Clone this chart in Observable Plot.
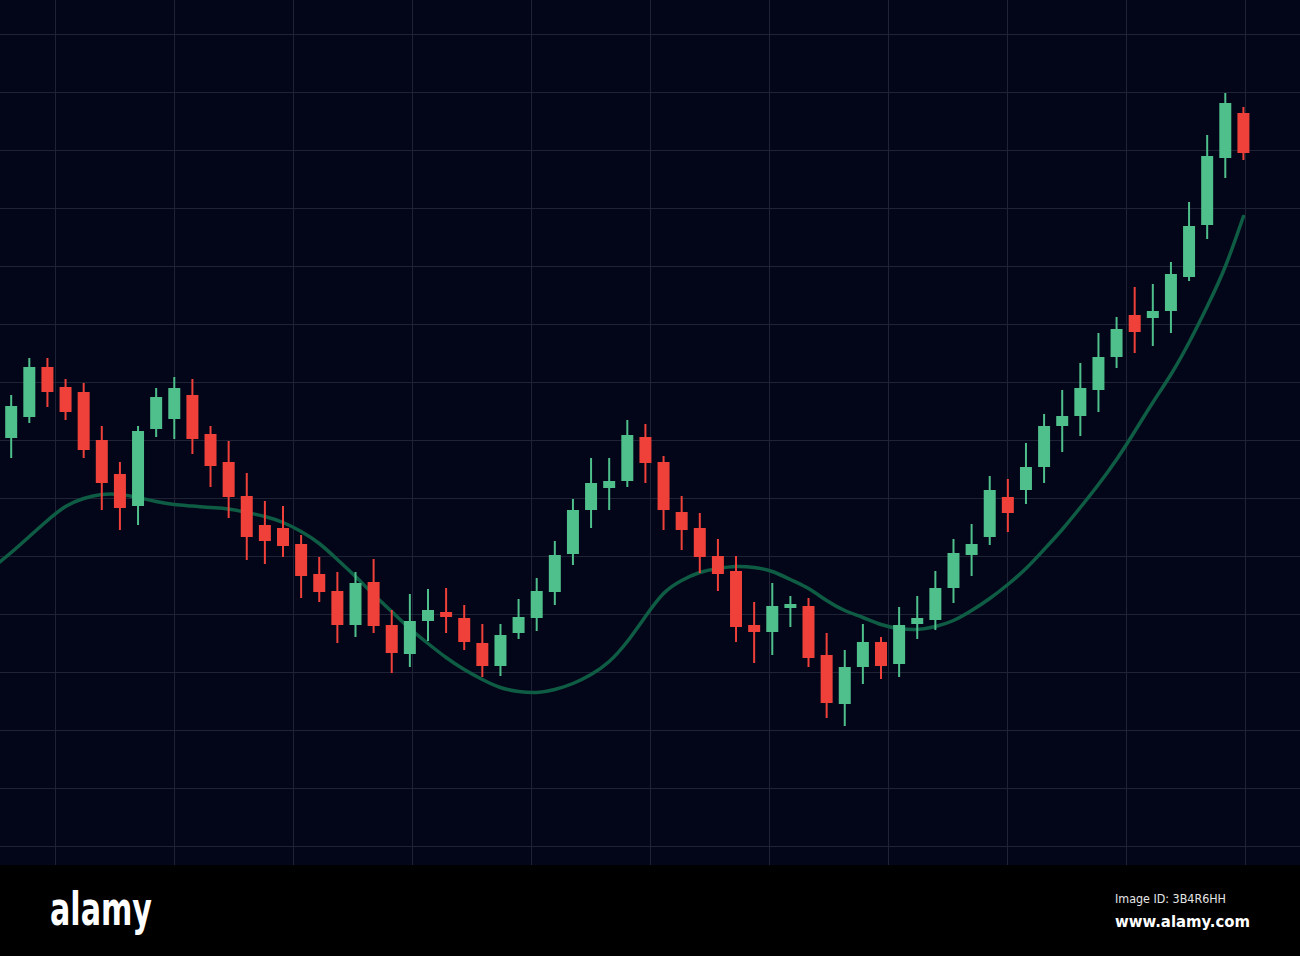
<!DOCTYPE html>
<html>
<head>
<meta charset="utf-8">
<script src="https://cdn.jsdelivr.net/npm/d3@7"></script>
<script src="https://cdn.jsdelivr.net/npm/@observablehq/plot@0.6"></script>
<style>
  html, body { margin: 0; padding: 0; background: #000; width: 1300px; height: 956px; overflow: hidden; }
  #chart svg { display: block; }
  #footer { display: block; }
</style>
</head>
<body>
<div id="chart"></div>
<svg id="footer" width="1300" height="91" xmlns="http://www.w3.org/2000/svg">
  <rect x="0" y="0" width="1300" height="91" fill="#000"></rect>
  <text x="50" y="60" fill="#fff" font-family="'Liberation Sans Narrow', 'DejaVu Sans Condensed', sans-serif" font-weight="bold" font-size="46" textLength="102" lengthAdjust="spacingAndGlyphs">alamy</text>
  <text x="1115" y="38" fill="#e6e6e6" font-family="'DejaVu Sans Condensed', 'Liberation Sans Narrow', sans-serif" font-size="13" textLength="111" lengthAdjust="spacingAndGlyphs">Image ID: 3B4R6HH</text>
  <text x="1115" y="62" fill="#fff" font-family="'DejaVu Sans Condensed', 'Liberation Sans Narrow', sans-serif" font-weight="bold" font-size="15" textLength="135" lengthAdjust="spacingAndGlyphs">www.alamy.com</text>
</svg>
<script>
// Candle data (one entry per session, sessions 1..69)
const opens  = [462,483,533,513,508,460,426,394,471,481,505,466,438,404,375,372,356,326,309,275,318,275,246,279,288,282,257,234,267,282,308,346,390,412,419,463,438,388,372,344,329,275,268,292,294,245,196,233,258,236,276,280,312,345,363,403,410,433,474,484,510,543,585,582,589,623,675,742,787];
const highs  = [505,542,542,521,517,474,438,474,512,523,521,474,459,427,399,394,365,343,328,328,341,290,306,311,312,295,276,276,301,322,359,401,442,442,480,476,444,404,387,361,344,298,317,304,302,267,250,276,263,293,304,329,361,376,424,421,457,486,510,537,567,583,613,616,638,698,765,807,793];
const lows   = [442,477,493,480,442,390,370,375,463,461,446,413,382,340,336,343,302,298,257,263,267,227,233,259,267,250,223,224,261,269,295,335,372,390,413,417,370,350,327,309,258,237,245,273,233,182,174,216,221,223,261,270,297,324,355,368,396,417,448,464,488,532,547,554,567,619,661,722,740];
const closes = [494,533,508,488,450,417,392,469,503,512,461,434,403,363,359,354,324,308,275,317,274,247,279,290,283,258,234,265,283,309,345,390,417,419,465,437,390,370,343,326,273,268,294,296,242,197,233,258,234,275,282,312,347,356,410,387,433,474,484,512,543,571,568,589,626,674,744,797,747];

// Moving average, from session 0 to session 69
const maValues = [333,348,364,380,394,402,406,406,403,399,396,394.5,393,391.5,388,384,378,369,357,341,324,306,289,272,257,243,231,221,213,209,208,211,217,226,239,259,284,307,320,328,332,334,333,329,321,312,300,290,283,276,272,271,274,280,290,302,316,332,351,371,393,416,441,469,498,526,558,594,634,684];

// Grid positions (price levels and time marks)
const priceTicks = [866,808,750,692,634,576,518,460,402,344,286,228,170,112,54];
const timeTicks = [3.445,10.012,16.579,23.146,29.713,36.28,42.847,49.414,55.981,62.548,69.115];

const UP = "#4fbf8b";
const DOWN = "#ef4139";

const candles = opens.map((o, i) => ({
  t: i + 1, open: o, high: highs[i], low: lows[i], close: closes[i],
  color: closes[i] >= o ? UP : DOWN
}));
const ma = maValues.map((v, i) => ({ t: i, v }));

const chart = Plot.plot({
  width: 1300,
  height: 865,
  margin: 0,
  style: { background: "#030619" },
  x: { domain: [0.41, 72.15], axis: null },
  y: { domain: [35, 900], axis: null },
  color: { type: "identity" },
  marks: [
    Plot.ruleX(timeTicks, { stroke: "#1e2336", strokeWidth: 1 }),
    Plot.ruleY(priceTicks, { stroke: "#1e2336", strokeWidth: 1 }),
    Plot.line(ma, { x: "t", y: "v", stroke: "#0f5c44", strokeWidth: 3.5, curve: "natural", clip: true }),
    Plot.ruleX(candles, { x: "t", y1: "low", y2: "high", stroke: "color", strokeWidth: 2 }),
    Plot.ruleX(candles, { x: "t", y1: "open", y2: "close", stroke: "color", strokeWidth: 12, strokeLinecap: "butt" })
  ]
});
document.getElementById("chart").appendChild(chart);
</script>
</body>
</html>
